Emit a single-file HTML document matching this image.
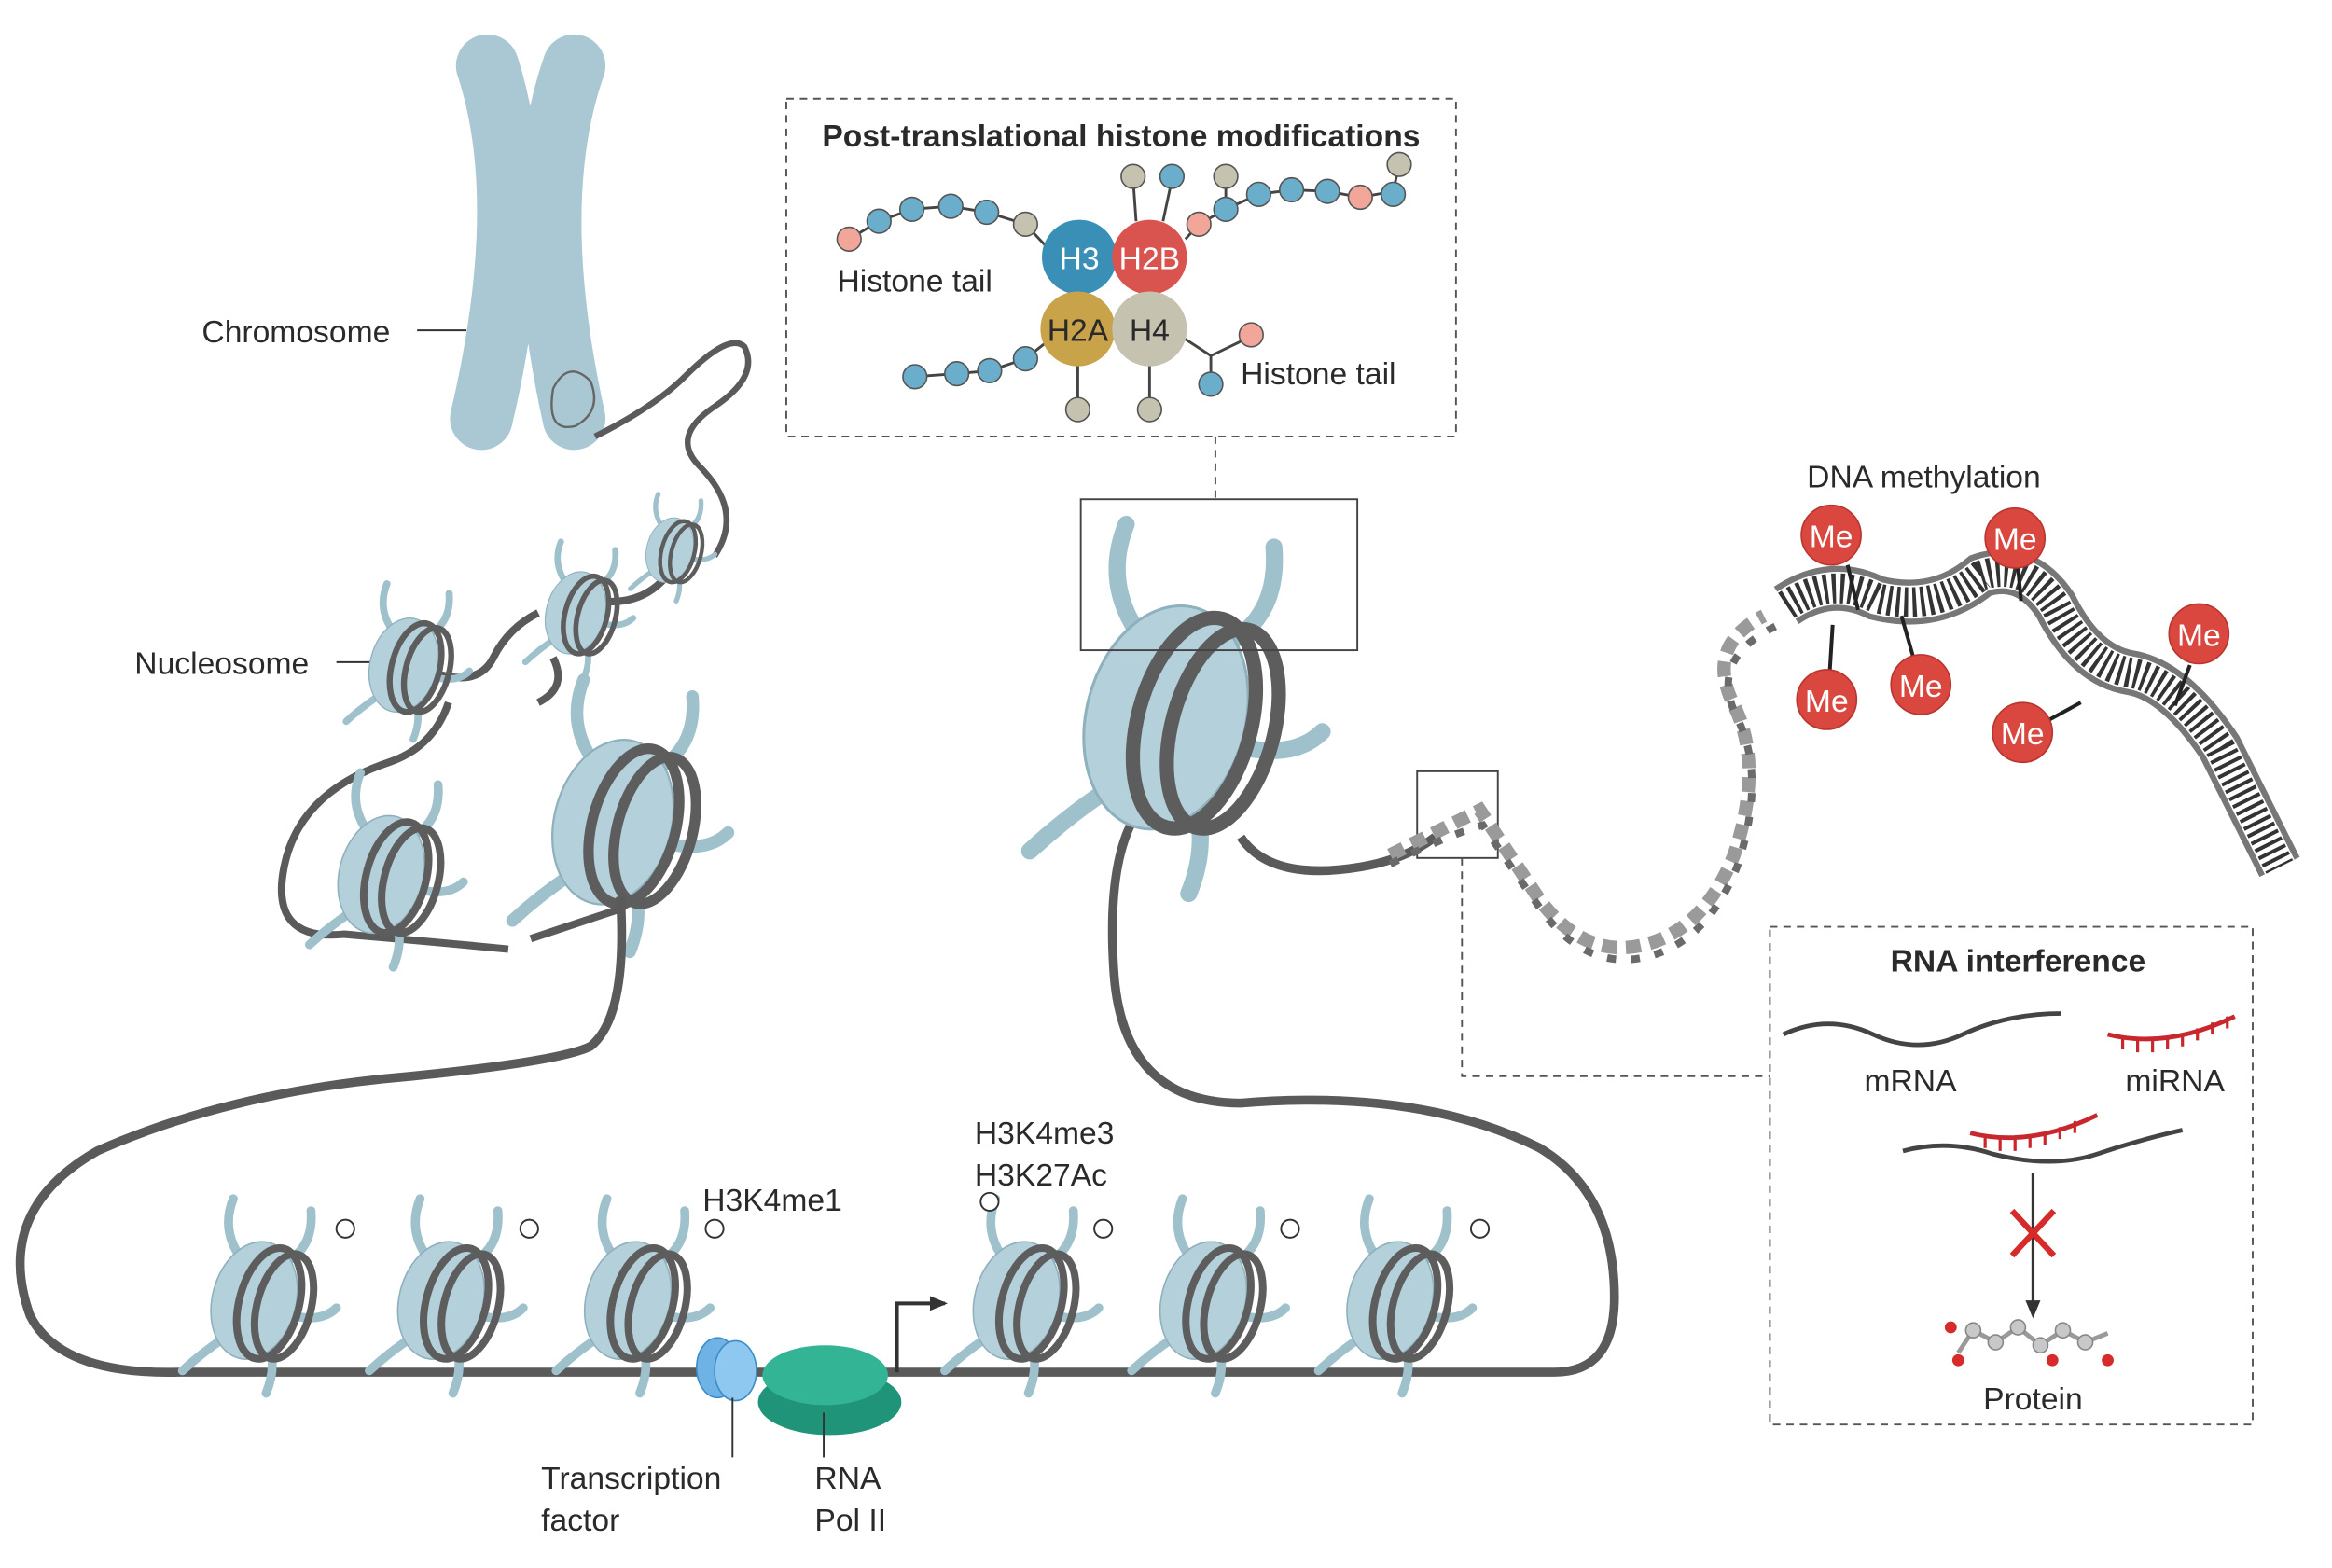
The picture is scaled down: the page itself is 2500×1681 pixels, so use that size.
<!DOCTYPE html>
<html><head><meta charset="utf-8"><style>
html,body{margin:0;padding:0;background:#fff}
svg{display:block}
text{font-family:"Liberation Sans",sans-serif;fill:#2a2a2a}
</style></head><body>
<svg width="2500" height="1681" viewBox="0 0 1560 1049" xmlns="http://www.w3.org/2000/svg">
<defs>
<g id="nuc">
  <path d="M-10,-30 q-12,-18 -4,-38 M20,-25 q20,-10 18,-35 M-20,25 q-15,10 -28,22 M10,30 q5,15 -2,32 M25,10 q20,5 30,-5" stroke="#9fc1cc" stroke-width="6" fill="none" stroke-linecap="round"/>
  <ellipse cx="0" cy="0" rx="28" ry="40" transform="rotate(15)" fill="#b4d0da" stroke="#8fb0bd" stroke-width="1"/>
  <ellipse cx="10" cy="2" rx="20" ry="38" transform="rotate(15 10 2)" fill="none" stroke="#5d5d5d" stroke-width="5"/>
  <ellipse cx="20" cy="4" rx="18" ry="36" transform="rotate(15 20 4)" fill="none" stroke="#5d5d5d" stroke-width="5"/>
</g>
<marker id="ah" markerUnits="userSpaceOnUse" markerWidth="12" markerHeight="10" refX="10" refY="5" orient="auto"><path d="M0,0 L12,5 L0,10z" fill="#333"/></marker>
</defs>

<!-- chromosome -->
<path d="M326,44 Q356,135 322,280" stroke="#a9c8d3" stroke-width="42" fill="none" stroke-linecap="round"/>
<path d="M384,44 Q352,135 384,280" stroke="#a9c8d3" stroke-width="42" fill="none" stroke-linecap="round"/>
<path d="M370,260 q10,-20 25,-5 q8,20 -10,30 q-20,5 -15,-25z" fill="none" stroke="#666" stroke-width="1.5"/>
<path d="M398,292 q40,-20 60,-40 q30,-30 40,-20 q10,20 -20,40 q-30,20 -10,40 q30,30 10,60" stroke="#5a5a5a" stroke-width="4" fill="none"/>
<text x="135" y="229" font-size="21">Chromosome</text>
<line x1="279" y1="221" x2="312" y2="221" stroke="#333" stroke-width="1.2"/>
<text x="90" y="451" font-size="21">Nucleosome</text>
<line x1="225" y1="443" x2="255" y2="443" stroke="#333" stroke-width="1.2"/>

<!-- upper left DNA and nucleosomes -->
<path d="M450,380 q-20,30 -60,20 M360,410 q-20,10 -30,30 q-10,20 -40,10 M300,470 q-10,30 -40,40 q-60,20 -70,70 q-10,50 40,45 q60,5 110,10 M370,440 q10,20 -10,30 M355,628 q30,-10 60,-20 q30,-20 0,-70" stroke="#5a5a5a" stroke-width="5" fill="none"/>
<use href="#nuc" transform="translate(448,368) scale(0.55)"/>
<use href="#nuc" transform="translate(385,410) scale(0.7)"/>
<use href="#nuc" transform="translate(270,445) scale(0.8)"/>
<use href="#nuc" transform="translate(255,585) scale(1)"/>
<use href="#nuc" transform="translate(410,550) scale(1.4)"/>

<!-- big loop -->
<path d="M415,600 q5,80 -20,100 q-20,10 -120,20 q-120,10 -210,50 q-70,40 -45,110 q20,40 100,38 L1040,918 q40,0 40,-50 q0,-70 -50,-100 q-80,-40 -200,-30 q-80,0 -85,-90 q-5,-80 20,-110" stroke="#5a5a5a" stroke-width="6" fill="none"/>
<use href="#nuc" transform="translate(780,480) scale(1.9)"/>
<path d="M830,560 q20,30 80,20 q30,-5 50,-20" stroke="#5a5a5a" stroke-width="6" fill="none"/>
<rect x="723" y="334" width="185" height="101" fill="none" stroke="#444" stroke-width="1.2"/>
<line x1="813" y1="292" x2="813" y2="334" stroke="#444" stroke-width="1.2" stroke-dasharray="5,4"/>

<!-- bottom nucleosomes -->
<use href="#nuc" transform="translate(170,870) scale(1)"/>
<use href="#nuc" transform="translate(295,870) scale(1)"/>
<use href="#nuc" transform="translate(420,870) scale(1)"/>
<use href="#nuc" transform="translate(680,870) scale(1)"/>
<use href="#nuc" transform="translate(805,870) scale(1)"/>
<use href="#nuc" transform="translate(930,870) scale(1)"/>
<g fill="#fff" stroke="#333" stroke-width="1.2">
<circle cx="231" cy="822" r="6"/><circle cx="354" cy="822" r="6"/><circle cx="478" cy="822" r="6"/>
<circle cx="662" cy="804" r="6"/><circle cx="738" cy="822" r="6"/><circle cx="863" cy="822" r="6"/><circle cx="990" cy="822" r="6"/>
</g>
<text x="470" y="810" font-size="21">H3K4me1</text>
<text x="652" y="765" font-size="21">H3K4me3</text>
<text x="652" y="793" font-size="21">H3K27Ac</text>
<ellipse cx="480" cy="915" rx="14" ry="20" fill="#6fb3e6" stroke="#3d8cc6"/>
<ellipse cx="492" cy="917" rx="14" ry="20" fill="#8ec8f0" stroke="#3d8cc6"/>
<ellipse cx="555" cy="938" rx="48" ry="22" fill="#1f9478"/>
<ellipse cx="552" cy="920" rx="42" ry="20" fill="#33b595"/>
<path d="M600,918 L600,872 L632,872" stroke="#333" stroke-width="2.5" fill="none" marker-end="url(#ah)"/>
<line x1="490" y1="935" x2="490" y2="975" stroke="#333" stroke-width="1.2"/>
<line x1="551" y1="945" x2="551" y2="975" stroke="#333" stroke-width="1.2"/>
<text x="362" y="996" font-size="21">Transcription</text>
<text x="362" y="1024" font-size="21">factor</text>
<text x="545" y="996" font-size="21">RNA</text>
<text x="545" y="1024" font-size="21">Pol II</text>

<!-- PTM box -->
<rect x="526" y="66" width="448" height="226" fill="none" stroke="#555" stroke-width="1.2" stroke-dasharray="5,4"/>
<text x="750" y="98" font-size="21" font-weight="bold" text-anchor="middle" fill="#222">Post-translational histone modifications</text>
<g stroke="#444" stroke-width="1.8" fill="none">
<path d="M568,160 L588,148 L610,140 L636,138 L660,142 L686,150 L700,165"/>
<path d="M612,252 L640,250 L662,248 L686,240 L705,225"/>
<path d="M760,148 L758,120 M778,148 L784,120 M793,160 L802,150 L820,140 L820,120 M820,140 L842,130 L864,127 L888,128 L910,132 L932,128 L936,110"/>
<path d="M721,243 L721,272 M769,243 L769,272 M790,225 L810,238 L835,226 M810,238 L810,255"/>
</g>
<g stroke="#555" stroke-width="1">
<circle cx="568" cy="160" r="8" fill="#f2a69a"/><circle cx="588" cy="148" r="8" fill="#6aaecb"/><circle cx="610" cy="140" r="8" fill="#6aaecb"/><circle cx="636" cy="138" r="8" fill="#6aaecb"/><circle cx="660" cy="142" r="8" fill="#6aaecb"/><circle cx="686" cy="150" r="8" fill="#c5c2b0"/>
<circle cx="612" cy="252" r="8" fill="#6aaecb"/><circle cx="640" cy="250" r="8" fill="#6aaecb"/><circle cx="662" cy="248" r="8" fill="#6aaecb"/><circle cx="686" cy="240" r="8" fill="#6aaecb"/>
<circle cx="758" cy="118" r="8" fill="#c5c2b0"/><circle cx="784" cy="118" r="8" fill="#6aaecb"/><circle cx="802" cy="150" r="8" fill="#f2a69a"/><circle cx="820" cy="140" r="8" fill="#6aaecb"/><circle cx="820" cy="118" r="8" fill="#c5c2b0"/><circle cx="842" cy="130" r="8" fill="#6aaecb"/><circle cx="864" cy="127" r="8" fill="#6aaecb"/><circle cx="888" cy="128" r="8" fill="#6aaecb"/><circle cx="910" cy="132" r="8" fill="#f2a69a"/><circle cx="932" cy="130" r="8" fill="#6aaecb"/><circle cx="936" cy="110" r="8" fill="#c5c2b0"/>
<circle cx="721" cy="274" r="8" fill="#c5c2b0"/><circle cx="769" cy="274" r="8" fill="#c5c2b0"/><circle cx="837" cy="224" r="8" fill="#f2a69a"/><circle cx="810" cy="257" r="8" fill="#6aaecb"/>
</g>
<circle cx="722" cy="172" r="25" fill="#3a8fb7"/><circle cx="769" cy="172" r="25" fill="#d9534f"/>
<circle cx="721" cy="220" r="25" fill="#c9a34a"/><circle cx="769" cy="220" r="25" fill="#c5c2b0"/>
<text x="722" y="180" font-size="21" text-anchor="middle" style="fill:#fff">H3</text>
<text x="769" y="180" font-size="21" text-anchor="middle" style="fill:#fff">H2B</text>
<text x="721" y="228" font-size="21" text-anchor="middle">H2A</text>
<text x="769" y="228" font-size="21" text-anchor="middle">H4</text>
<text x="560" y="195" font-size="21">Histone tail</text>
<text x="830" y="257" font-size="21">Histone tail</text>

<!-- DNA helix -->
<rect x="948" y="516" width="54" height="58" fill="none" stroke="#444" stroke-width="1.2"/>
<path d="M930,572 q40,-20 60,-30 q20,30 40,60 q30,40 70,30 q40,-10 60,-60 q20,-60 0,-100 q-20,-40 20,-60" stroke="#9a9a9a" stroke-width="9" fill="none" stroke-dasharray="10,6"/>
<path d="M930,578 q40,-20 62,-26 q20,30 40,58 q30,40 70,30 q40,-10 60,-60 q20,-60 0,-100 q-20,-40 28,-62" stroke="#6a6a6a" stroke-width="5" fill="none" stroke-dasharray="6,10"/>
<path d="M1195,405 q30,-20 60,-5 q40,10 70,-15 q30,-10 50,20 q20,40 50,45 q30,5 60,50 q20,40 40,80" stroke="#777" stroke-width="30" fill="none"/>
<path d="M1195,405 q30,-20 60,-5 q40,10 70,-15 q30,-10 50,20 q20,40 50,45 q30,5 60,50 q20,40 40,80" stroke="#fff" stroke-width="22" fill="none"/>
<path d="M1195,405 q30,-20 60,-5 q40,10 70,-15 q30,-10 50,20 q20,40 50,45 q30,5 60,50 q20,40 40,80" stroke="#333" stroke-width="20" fill="none" stroke-dasharray="2.5,3"/>
<g stroke="#222" stroke-width="2.5">
<line x1="1236" y1="378" x2="1243" y2="408"/><line x1="1350" y1="380" x2="1352" y2="402"/><line x1="1465" y1="445" x2="1455" y2="472"/>
<line x1="1224" y1="450" x2="1226" y2="418"/><line x1="1280" y1="440" x2="1272" y2="412"/><line x1="1370" y1="482" x2="1392" y2="470"/>
</g>
<g fill="#d9473f" stroke="#b83530">
<circle cx="1225" cy="358" r="20"/><circle cx="1348" cy="360" r="20"/><circle cx="1471" cy="424" r="20"/>
<circle cx="1222" cy="468" r="20"/><circle cx="1285" cy="458" r="20"/><circle cx="1353" cy="490" r="20"/>
</g>
<g font-size="21" text-anchor="middle">
<text x="1225" y="366" style="fill:#fff">Me</text><text x="1348" y="368" style="fill:#fff">Me</text><text x="1471" y="432" style="fill:#fff">Me</text>
<text x="1222" y="476" style="fill:#fff">Me</text><text x="1285" y="466" style="fill:#fff">Me</text><text x="1353" y="498" style="fill:#fff">Me</text>
</g>
<text x="1287" y="326" font-size="21" text-anchor="middle">DNA methylation</text>

<!-- RNAi box -->
<polyline points="978,574 978,720 1184,720" fill="none" stroke="#555" stroke-width="1.2" stroke-dasharray="5,4"/>
<rect x="1184" y="620" width="323" height="333" fill="none" stroke="#555" stroke-width="1.2" stroke-dasharray="5,4"/>
<text x="1350" y="650" font-size="21" font-weight="bold" text-anchor="middle" fill="#222">RNA interference</text>
<path d="M1193,692 q30,-14 60,0 q30,14 60,0 q30,-14 66,-14" stroke="#444" stroke-width="3" fill="none"/>
<path d="M1410,692 q40,10 85,-12" stroke="#c8282d" stroke-width="3" fill="none"/>
<path d="M1420,694 l0,8 M1430,696 l0,8 M1440,696 l0,8 M1450,694 l0,8 M1460,692 l0,8 M1470,688 l0,8 M1480,684 l0,8 M1490,680 l0,8" stroke="#c8282d" stroke-width="2"/>
<text x="1278" y="730" font-size="21" text-anchor="middle">mRNA</text>
<text x="1455" y="730" font-size="21" text-anchor="middle">miRNA</text>
<path d="M1273,770 q30,-8 60,2 q40,10 70,0 q30,-10 57,-16" stroke="#444" stroke-width="3" fill="none"/>
<path d="M1318,758 q40,10 85,-12" stroke="#c8282d" stroke-width="3" fill="none"/>
<path d="M1328,760 l0,8 M1338,762 l0,8 M1348,762 l0,8 M1358,760 l0,8 M1368,758 l0,8 M1378,754 l0,8 M1388,750 l0,8" stroke="#c8282d" stroke-width="2"/>
<line x1="1360" y1="785" x2="1360" y2="880" stroke="#333" stroke-width="2" marker-end="url(#ah)"/>
<path d="M1346,810 L1374,840 M1374,810 L1346,840" stroke="#d52b2b" stroke-width="4"/>
<path d="M1310,905 L1320,890 L1335,898 L1350,888 L1365,900 L1380,890 L1395,898 L1410,892" stroke="#999" stroke-width="3" fill="none"/>
<g fill="#c8c8c8" stroke="#888"><circle cx="1320" cy="890" r="5"/><circle cx="1335" cy="898" r="5"/><circle cx="1350" cy="888" r="5"/><circle cx="1365" cy="900" r="5"/><circle cx="1380" cy="890" r="5"/><circle cx="1395" cy="898" r="5"/></g>
<g fill="#d52b2b"><circle cx="1310" cy="910" r="4"/><circle cx="1373" cy="910" r="4"/><circle cx="1410" cy="910" r="4"/><circle cx="1305" cy="888" r="4"/></g>
<text x="1360" y="943" font-size="21" text-anchor="middle">Protein</text>
</svg>
</body></html>
